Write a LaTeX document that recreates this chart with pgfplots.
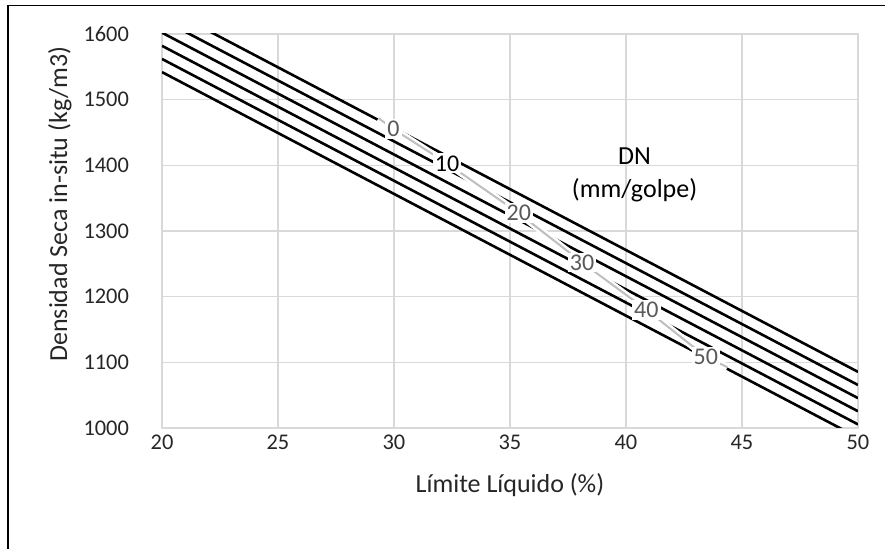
\documentclass[border=0pt]{standalone}
\usepackage{fontspec}
\setmainfont{Carlito}
\usepackage{pgfplots}
\pgfplotsset{compat=1.18}
\definecolor{txt}{HTML}{595959}
\definecolor{gridc}{HTML}{D9D9D9}
\definecolor{lab}{HTML}{BFBFBF}
\definecolor{dark}{HTML}{262626}
\begin{document}
\begin{tikzpicture}
\path[use as bounding box] (-81pt,-60.5pt) rectangle (361.5pt,214pt);
\begin{axis}[
 scale only axis, width=348pt, height=197pt,
 xmin=20, xmax=50, ymin=1000, ymax=1600,
 xtick={20,25,...,50}, ytick={1000,1100,...,1600},
 grid=major, major grid style={gridc, line width=0.6pt},
 axis line style={gridc, line width=0.6pt},
 major tick length=0pt,
 tick label style={font=\fontsize{11.2}{13}\selectfont, text=dark},
 /pgf/number format/assume math mode=true,
 /pgf/number format/1000 sep={},
 yticklabel style={xshift=-13pt},
 xlabel={Límite Líquido (\%)}, ylabel={Densidad Seca in-situ (kg/m3)},
 label style={font=\fontsize{13}{15}\selectfont, text=dark},
 xlabel style={at={(axis description cs:0.5,-0.1447)}, anchor=center},
 ylabel style={at={(axis description cs:-0.1466,0.568)}, anchor=center},
 clip=true,
]
\addplot[black, line width=1.3pt] coordinates {(20,1642) (50,1085.5)};
\addplot[black, line width=1.3pt] coordinates {(20,1622) (50,1065.5)};
\addplot[black, line width=1.3pt] coordinates {(20,1602) (50,1045.5)};
\addplot[black, line width=1.3pt] coordinates {(20,1582) (50,1025.5)};
\addplot[black, line width=1.3pt] coordinates {(20,1562) (50,1005.5)};
\addplot[black, line width=1.3pt] coordinates {(20,1542) (50,985.5)};
\addplot[white, line width=3.5pt] coordinates {(29.34,1471.6) (29.98,1455) (32.29,1403) (35.38,1327) (38.11,1252) (40.88,1180) (43.44,1108.6) (44.37,1092.5)};
\addplot[lab, line width=1pt] coordinates {(29.34,1471.6) (29.98,1455) (32.29,1403) (35.38,1327) (38.11,1252) (40.88,1180) (43.44,1108.6) (44.37,1092.5)};
\begin{scope}[every node/.style={fill=white, inner sep=1pt, font=\fontsize{12}{14}\selectfont, text=txt}]
\node at (axis cs:29.98,1455) {0};
\node[text=black] at (axis cs:32.29,1403) {10};
\node at (axis cs:35.38,1327) {20};
\node at (axis cs:38.11,1252) {30};
\node at (axis cs:40.88,1180) {40};
\node at (axis cs:43.44,1108.6) {50};
\end{scope}
\node[align=center, font=\fontsize{13}{16.5}\selectfont, text=black] at (axis cs:40.37,1385) {DN\\(mm/golpe)};
\end{axis}
\draw[line width=0.75pt, black] (-77pt,-60.5pt) -- (-77pt,211.25pt) -- (361.5pt,211.25pt);
\end{tikzpicture}
\end{document}
